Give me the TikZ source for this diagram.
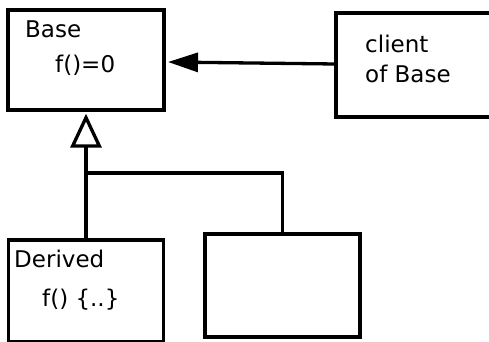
\documentclass[tikz,border=0pt]{standalone}
\usepackage{fontspec}
\setmainfont{DejaVu Sans}
\usetikzlibrary{arrows.meta}
\tikzset{
  umlbox/.style={draw=black, line width=3.3pt, fill=white, inner sep=0pt},
  conn/.style={draw=black, line width=3.3pt},
  lbl/.style={anchor=base west, inner sep=0pt, font=\fontsize{23}{26}\selectfont},
}
\begin{document}
\begin{tikzpicture}[x=1pt,y=-1pt]
\clip (0,0) rectangle (489,341);
\fill[white] (0,0) rectangle (489,341);
\node[umlbox, minimum width=156pt, minimum height=100pt] (base) at (86,60) {};
\node[umlbox, minimum width=156pt, minimum height=104pt] (client) at (414,65) {};
\node[umlbox, minimum width=155pt, minimum height=102pt] (derived) at (86,291) {};
\node[umlbox, minimum width=155pt, minimum height=103pt] (other) at (282.5,285.5) {};
\coordinate (j) at (86,173);
\coordinate (ctail) at (336,64);
\coordinate (chead) at (168,62);
\draw[conn, -{Triangle[length=30pt 0, width=19pt 0]}] (ctail) -- (chead);
\draw[conn, -{Triangle[open, length=34pt 0, width=31pt 0, fill=white]}, shorten >=2pt] (derived.north) -- (base.south);
\draw[conn] (other.north) |- (j);
\node[lbl] (tbase) at (25,37) {Base};
\node[lbl] (tf) at (55,72) {f()=0};
\node[lbl] (tclient) at (365,52) {client};
\node[lbl] (tof) at (365,82) {of Base};
\node[lbl] (tder) at (14,267) {Derived};
\node[lbl] (tfd) at (42,306) {f() \{..\}};
\end{tikzpicture}
\end{document}
